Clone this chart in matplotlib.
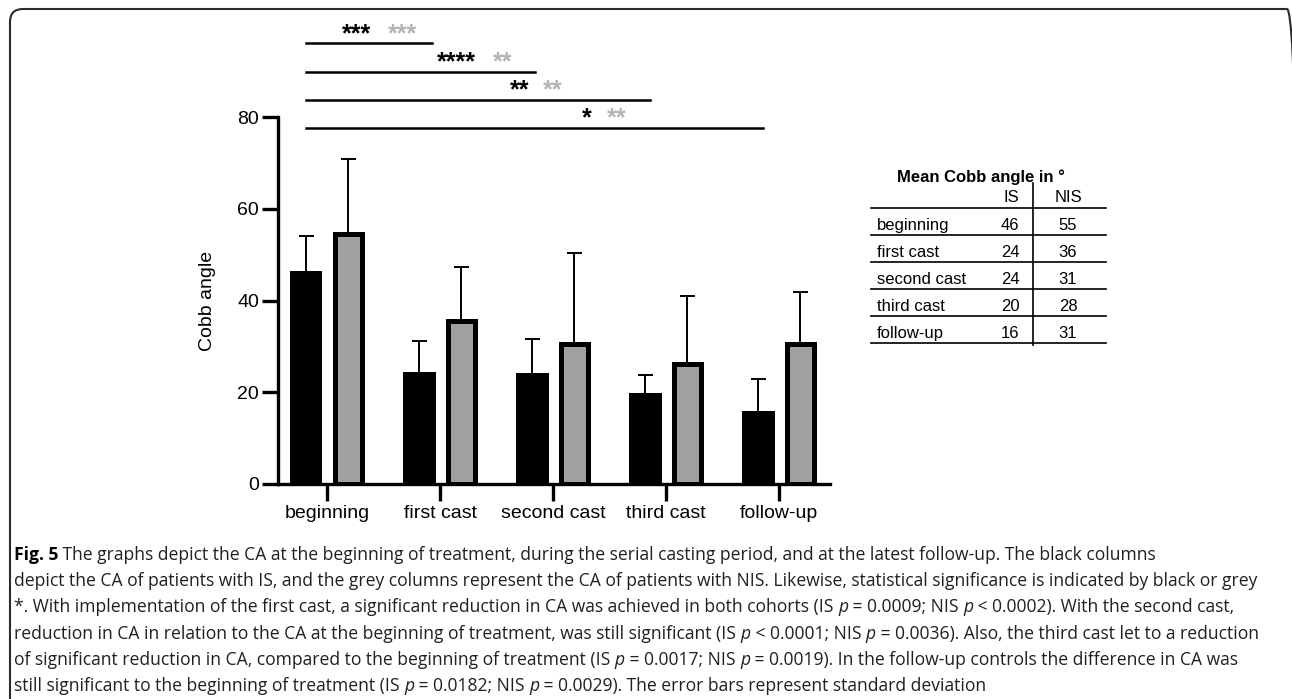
import matplotlib
matplotlib.use("Agg")
import matplotlib.pyplot as plt
from matplotlib.lines import Line2D
from matplotlib.patches import FancyBboxPatch
from matplotlib.transforms import IdentityTransform
import numpy as np

# ---- data ----
categories = ["beginning", "first cast", "second cast", "third cast", "follow-up"]
is_mean = [46.0, 24.0, 23.7, 19.5, 15.5]
is_sd = [8.1, 7.2, 7.8, 4.2, 7.4]
nis_mean = [54.6, 35.5, 30.6, 26.2, 30.5]
nis_sd = [16.3, 11.9, 19.7, 14.7, 11.3]

# significance bars (all start at the "beginning" IS column)
sig_end = [0.93, 1.84, 2.86, 3.86]
sig_y = [96.1, 89.8, 83.7, 77.6]
sig_black = ["***", "****", "**", "*"]
sig_grey = ["***", "**", "**", "**"]
sig_black_x = [0.26, 1.14, 1.70, 2.30]
sig_grey_x = [0.67, 1.55, 2.00, 2.56]

# table on the right
table_is = [46, 24, 24, 20, 16]
table_nis = [55, 36, 31, 28, 31]

caption = [
    [("Fig. 5", "b"), (" The graphs depict the CA at the beginning of treatment, during the serial casting period, and at the latest follow-up. The black columns", "n")],
    [("depict the CA of patients with IS, and the grey columns represent the CA of patients with NIS. Likewise, statistical significance is indicated by black or grey", "n")],
    [("*. With implementation of the first cast, a significant reduction in CA was achieved in both cohorts (IS ", "n"), ("p", "i"), (" = 0.0009; NIS ", "n"), ("p", "i"), (" < 0.0002). With the second cast,", "n")],
    [("reduction in CA in relation to the CA at the beginning of treatment, was still significant (IS ", "n"), ("p", "i"), (" < 0.0001; NIS ", "n"), ("p", "i"), (" = 0.0036). Also, the third cast let to a reduction", "n")],
    [("of significant reduction in CA, compared to the beginning of treatment (IS ", "n"), ("p", "i"), (" = 0.0017; NIS ", "n"), ("p", "i"), (" = 0.0019). In the follow-up controls the difference in CA was", "n")],
    [("still significant to the beginning of treatment (IS ", "n"), ("p", "i"), (" = 0.0182; NIS ", "n"), ("p", "i"), (" = 0.0029). The error bars represent standard deviation", "n")],
]

plt.rcParams['font.family'] = ['Liberation Sans', 'DejaVu Sans']

W, H = 1292, 699
fig = plt.figure(figsize=(W / 100, H / 100), dpi=100)

def fx(px):
    return px / W

def fy(py):
    return 1 - py / H

# ---- bar chart ----
ax = fig.add_axes([fx(278), fy(484), (830 - 278) / W, (484 - 117) / H])
x = np.arange(len(categories))
off = 0.187
bw = 0.24
ax.bar(x - off, is_mean, bw, color='black', edgecolor='black', linewidth=3.6, zorder=3)
ax.bar(x + off, nis_mean, bw, color='#a0a0a0', edgecolor='black', linewidth=3.6, zorder=3)
ax.errorbar(x - off, is_mean, yerr=[np.zeros(len(x)), is_sd], fmt='none', ecolor='black',
            elinewidth=1.4, capsize=5.4, capthick=1.4, zorder=2)
ax.errorbar(x + off, nis_mean, yerr=[np.zeros(len(x)), nis_sd], fmt='none', ecolor='black',
            elinewidth=1.4, capsize=5.4, capthick=1.4, zorder=2)

ax.set_xlim(-0.434, 4.45)
ax.set_ylim(0, 80)
ax.set_yticks([0, 20, 40, 60, 80])
ax.set_xticks(x)
ax.set_xticklabels(categories)
for s in ['top', 'right']:
    ax.spines[s].set_visible(False)
for s in ['left', 'bottom']:
    ax.spines[s].set_linewidth(2.4)
    ax.spines[s].set_capstyle('projecting')
ax.tick_params(axis='y', length=11.5, width=2.4, labelsize=14, pad=2)
ax.tick_params(axis='x', length=12, width=2.4, labelsize=14, pad=3)
ax.set_ylabel('Cobb angle', fontsize=14)
ax.yaxis.set_label_coords(-0.113, 0.5)

for end, yv, bs, gs, bx, gx in zip(sig_end, sig_y, sig_black, sig_grey, sig_black_x, sig_grey_x):
    ax.plot([-off, end], [yv, yv], color='black', lw=1.8, clip_on=False)
    ax.text(bx, yv + 0.5, bs, ha='center', va='baseline', fontsize=18, fontweight='bold',
            color='black', clip_on=False)
    ax.text(gx, yv + 0.5, gs, ha='center', va='baseline', fontsize=18, fontweight='bold',
            color='#b4b4b4', clip_on=False)

# ---- table ----
fig.text(fx(981), fy(177), 'Mean Cobb angle in °', fontsize=12, fontweight='bold',
         ha='center', va='center')
fig.text(fx(1011), fy(197), 'IS', fontsize=12, ha='center', va='center')
fig.text(fx(1068), fy(197), 'NIS', fontsize=12, ha='center', va='center')
fig.add_artist(Line2D([fx(1033), fx(1033)], [fy(183), fy(345)], color='black', lw=1.2))
for i in range(6):
    ly = 207.7 + 27 * i
    fig.add_artist(Line2D([fx(871), fx(1106)], [fy(ly), fy(ly)], color='black', lw=1.2))
for i, (lab, a, b) in enumerate(zip(categories, table_is, table_nis)):
    ty = 207.7 + 27 * (i + 1) - 9
    fig.text(fx(877), fy(ty), lab, fontsize=12, ha='left', va='center')
    fig.text(fx(1010), fy(ty), str(a), fontsize=12, ha='center', va='center')
    fig.text(fx(1068), fy(ty), str(b), fontsize=12, ha='center', va='center')

# ---- caption ----
renderer = fig.canvas.get_renderer()
cap_family = ['Open Sans', 'DejaVu Sans']

def style_kw(st):
    kw = dict(family=cap_family, color='#231f20')
    if st == 'b':
        kw['fontweight'] = 'bold'
        kw['color'] = 'black'
    elif st == 'i':
        kw['fontstyle'] = 'italic'
    return kw

def seg_width(s, size, st):
    t1 = fig.text(0, 0, '|' + s + '|', fontsize=size, **style_kw(st))
    t2 = fig.text(0, 0, '||', fontsize=size, **style_kw(st))
    w = t1.get_window_extent(renderer).width - t2.get_window_extent(renderer).width
    t1.remove()
    t2.remove()
    return w

base = 14
w4 = sum(seg_width(s, base, st) for s, st in caption[3])
cap_size = base * (1268 - 14) / w4

for i, line in enumerate(caption):
    xp = 14
    yb = 560 + 26.2 * i
    for s, st in line:
        fig.text(fx(xp), fy(yb), s, fontsize=cap_size, ha='left', va='baseline', **style_kw(st))
        xp += seg_width(s, cap_size, st)

# ---- rounded frame (right and bottom edges fall outside the picture) ----
frame = FancyBboxPatch((10, -60), 1290, 759 - 9, boxstyle='round,pad=0,rounding_size=13',
                       transform=IdentityTransform(), fill=False, edgecolor='#2b2b2b', lw=1.5)
fig.add_artist(frame)

fig.savefig('out.png', dpi=100)
